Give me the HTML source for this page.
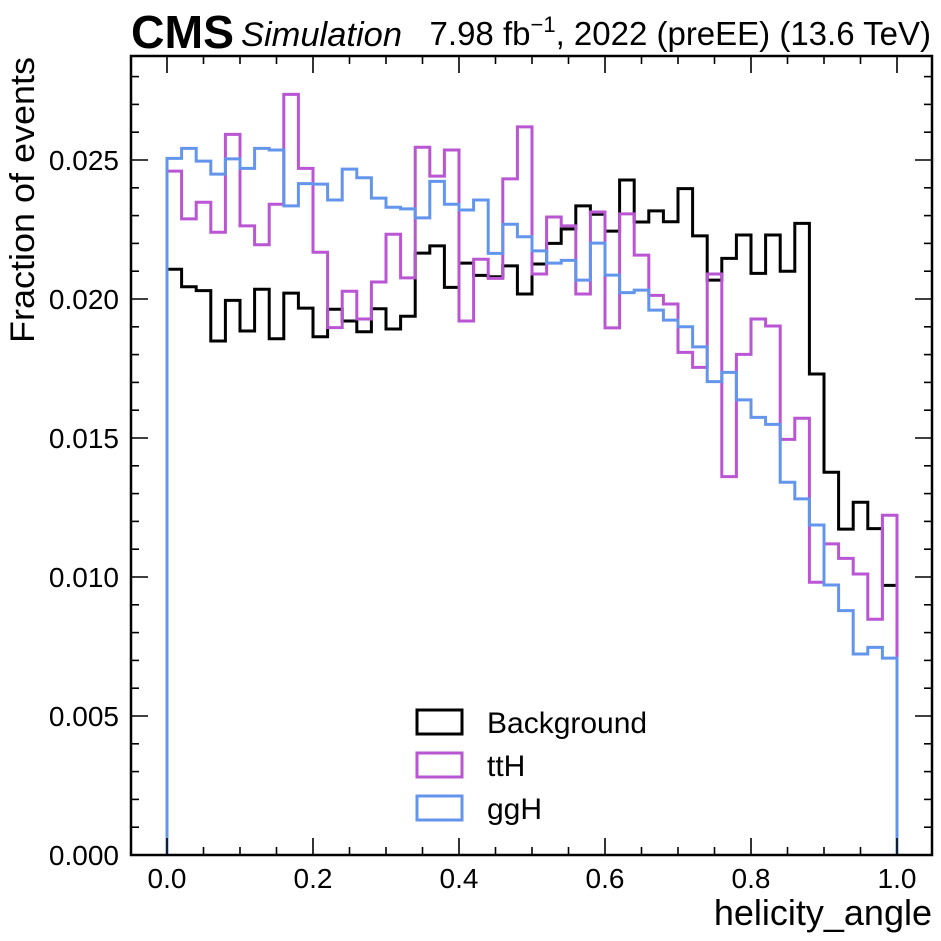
<!DOCTYPE html>
<html><head><meta charset="utf-8"><style>
html,body{margin:0;padding:0;background:#fff;}
svg{display:block;font-family:"Liberation Sans",sans-serif;}
</style></head><body>
<svg id="chart" width="941" height="941" viewBox="0 0 941 941">
<g id="marks"></g>
<g id="axes"></g>
<text x="131" y="48" font-size="46" font-weight="bold" textLength="103" lengthAdjust="spacingAndGlyphs">CMS</text>
<text x="241" y="46" font-size="34" font-style="italic" textLength="161" lengthAdjust="spacingAndGlyphs">Simulation</text>
<text x="931" y="45" font-size="33" text-anchor="end">7.98 fb<tspan dy="-13" font-size="22">−1</tspan><tspan dy="13">, 2022 (preEE) (13.6 TeV)</tspan></text>
<text x="932" y="925" font-size="36" text-anchor="end">helicity_angle</text>
<text transform="translate(34,57) rotate(-90)" font-size="34" text-anchor="end" textLength="286" lengthAdjust="spacingAndGlyphs">Fraction of events</text>
<g>
 <rect x="417" y="710" width="45" height="24" fill="none" stroke="#000" stroke-width="3"/>
 <text x="487" y="733" font-size="30">Background</text>
 <rect x="417" y="753" width="45" height="24" fill="none" stroke="#ba55d3" stroke-width="3"/>
 <text x="487" y="776" font-size="30">ttH</text>
 <rect x="417" y="796" width="45" height="24" fill="none" stroke="#6495ed" stroke-width="3"/>
 <text x="487" y="819" font-size="30">ggH</text>
</g>
</svg>
<script>
const binEdgesStart = 0.0;
const binWidth = 0.02;
const background = [21.07,20.44,20.30,18.49,19.95,18.85,20.35,18.57,20.21,19.67,18.64,19.63,19.21,18.82,19.65,18.92,19.38,21.65,21.91,20.42,21.29,20.85,20.80,21.19,20.18,21.26,22.00,22.52,23.35,23.05,22.44,24.28,22.77,23.17,22.78,23.97,22.27,20.68,21.46,22.30,20.92,22.30,21.00,22.72,17.30,13.77,11.72,12.69,11.74,9.70];
const tth = [24.60,22.88,23.48,22.40,25.92,22.63,21.95,23.41,27.36,24.70,21.68,18.97,20.28,19.28,20.61,22.33,20.76,25.46,24.42,25.36,19.21,21.43,20.74,24.32,26.19,20.90,22.95,22.63,20.18,23.13,18.96,23.06,21.58,20.13,19.82,18.08,17.54,20.90,13.61,18.01,19.28,19.03,14.95,15.71,9.81,11.19,10.67,10.11,8.48,12.22];
const ggh = [25.06,25.42,24.96,24.49,25.04,24.70,25.42,25.36,23.35,24.15,24.13,23.56,24.67,24.36,23.63,23.30,23.24,22.92,24.23,23.41,23.20,23.56,21.64,22.69,22.24,21.73,21.29,21.39,20.68,22.01,20.86,20.23,20.32,19.60,19.24,19.00,18.28,17.03,17.36,16.37,15.74,15.49,13.41,12.81,11.87,9.71,8.79,7.23,7.47,7.08];
const xTicks = [0.0,0.2,0.4,0.6,0.8,1.0];
const xTickLabels = ["0.0","0.2","0.4","0.6","0.8","1.0"];
const yTicks = [0,0.005,0.010,0.015,0.020,0.025];
const yTickLabels = ["0.000","0.005","0.010","0.015","0.020","0.025"];

const NS="http://www.w3.org/2000/svg";
const L=131,R=932,T=56,B=855;
function xs(v){return 167+v*730;}
function ys(v){return 855-v*27800;}
function mk(tag,attrs,parent){const e=document.createElementNS(NS,tag);for(const k in attrs)e.setAttribute(k,attrs[k]);parent.appendChild(e);return e;}
const marks=document.getElementById('marks');
const axes=document.getElementById('axes');
function hist(vals,color,name){
  let d="M"+xs(binEdgesStart)+","+ys(0);
  vals.forEach((v,i)=>{const y=ys(v*1e-3);d+=" L"+xs(binEdgesStart+i*binWidth)+","+y+" L"+xs(binEdgesStart+(i+1)*binWidth)+","+y;});
  d+=" L"+xs(binEdgesStart+vals.length*binWidth)+","+ys(0);
  const p=mk('path',{d:d,fill:'none',stroke:color,'stroke-width':3},marks);
  
  
}
hist(background,'#000000','series-background');
hist(tth,'#ba55d3','series-tth');
hist(ggh,'#6495ed','series-ggh');
const fr=mk('rect',{x:L,y:T,width:R-L,height:B-T,fill:'none',stroke:'#000','stroke-width':2.5},axes);


for(let k=0;k<=22;k++){const v=-0.05+k*0.05;const x=xs(v);if(x<=L+1||x>=R-1)continue;
  const major=Math.abs(v*5-Math.round(v*5))<1e-6;const len=major?17:8;
  mk('line',{x1:x,x2:x,y1:B,y2:B-len,stroke:'#000','stroke-width':1.6},axes);
  mk('line',{x1:x,x2:x,y1:T,y2:T+len,stroke:'#000','stroke-width':1.6},axes);}
xTicks.forEach((v,i)=>{const t=mk('text',{x:xs(v),y:888,'font-size':28,'text-anchor':'middle'},axes);t.textContent=xTickLabels[i];
  
  });
for(let k=1;k<=28;k++){const v=k*0.001;const y=ys(v);if(y<=T+1)continue;
  const major=k%5===0;const len=major?17:8;
  mk('line',{x1:L,x2:L+len,y1:y,y2:y,stroke:'#000','stroke-width':1.6},axes);
  mk('line',{x1:R,x2:R-len,y1:y,y2:y,stroke:'#000','stroke-width':1.6},axes);}
yTicks.forEach((v,i)=>{const t=mk('text',{x:119,y:ys(v)+10,'font-size':28,'text-anchor':'end'},axes);t.textContent=yTickLabels[i];
  
  });
</script>
</body></html>
